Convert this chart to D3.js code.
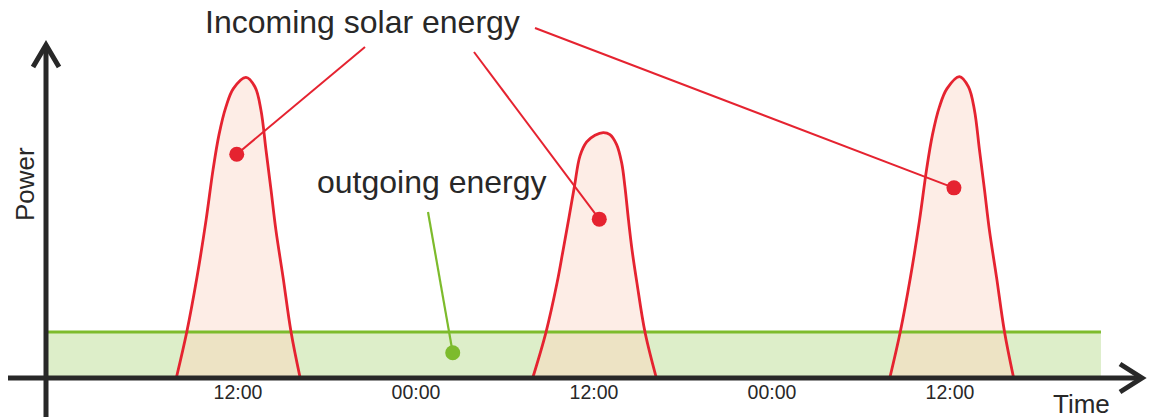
<!DOCTYPE html>
<html>
<head>
<meta charset="utf-8">
<script src="https://cdn.jsdelivr.net/npm/d3@7"></script>
<style>
  html, body { margin: 0; padding: 0; background: #ffffff; }
  svg { display: block; }
  text { font-family: "Liberation Sans", Arial, Helvetica, sans-serif; fill: #282828; }
</style>
</head>
<body>
<svg id="chart" width="1149" height="418"></svg>
<script>
// ---- data (hours on the time axis, power in arbitrary units) ----
const tickHours  = [12, 24, 36, 48, 60];
const tickLabels = ["12:00", "00:00", "12:00", "00:00", "12:00"];

const peak1Hours = [7.89, 8.58, 9.27, 9.88, 10.35, 10.75, 11.22, 11.72, 12.57, 13.18, 13.58, 13.92, 14.26, 14.59, 15.07, 15.61, 16.21];
const peak1Power = [0, 1.35, 3.00, 4.71, 6.22, 7.27, 8.11, 8.66, 9.00, 8.71, 8.02, 6.82, 5.62, 4.41, 3.00, 1.35, 0];

const peak2Hours = [31.92, 32.80, 33.54, 33.95, 34.35, 34.71, 35.09, 35.54, 36.10, 36.66, 37.11, 37.56, 37.90, 38.12, 38.36, 38.60, 38.93, 39.47, 40.22];
const peak2Power = [0, 1.35, 2.82, 3.81, 4.80, 5.71, 6.64, 7.06, 7.26, 7.34, 7.28, 6.98, 6.43, 5.71, 4.71, 3.81, 2.82, 1.35, 0];

const peak3Hours = [55.99, 56.68, 57.37, 57.98, 58.45, 58.85, 59.32, 59.83, 60.67, 61.28, 61.68, 62.02, 62.36, 62.69, 63.17, 63.71, 64.31];
const peak3Power = [0, 1.35, 3.00, 4.71, 6.22, 7.27, 8.11, 8.66, 9.02, 8.71, 8.02, 6.82, 5.62, 4.41, 3.00, 1.35, 0];

const outgoingHours = [-0.78, 70.21];
const outgoingPower = [1.35, 1.35];

// annotation dots [hour, power]
const solarDotHours = [11.95, 36.39, 60.30];
const solarDotPower = [6.69, 4.74, 5.68];
const outDotHour = 26.51;
const outDotPower = 0.73;

const labelIncoming = "Incoming solar energy";
const labelOutgoing = "outgoing energy";
const labelX = "Time";
const labelY = "Power";

// ---- layout ----
const svg = d3.select("#chart");
const x = d3.scaleLinear().domain([12, 60]).range([237.5, 949.5]);
const y = d3.scaleLinear().domain([0, 10]).range([377, 44]);

const RED = "#e52330", RED_FILL = "#fdede6", GREEN = "#7dbb2c", GREEN_FILL = "#ddeec9", TAN = "#ede3c4", AXIS = "#282828";

const peaks = [
  peak1Hours.map((h, i) => [h, peak1Power[i]]),
  peak2Hours.map((h, i) => [h, peak2Power[i]]),
  peak3Hours.map((h, i) => [h, peak3Power[i]])
];
const outgoing = outgoingHours.map((h, i) => [h, outgoingPower[i]]);

const curve = d3.curveCatmullRom.alpha(0.5);
const area = d3.area().x(d => x(d[0])).y0(y(0)).y1(d => y(d[1])).curve(curve);
const line = d3.line().x(d => x(d[0])).y(d => y(d[1])).curve(curve);

// outgoing band
svg.append("path").datum(outgoing).attr("d", d3.area().x(d => x(d[0])).y0(y(0)).y1(d => y(d[1])))
  .attr("fill", GREEN_FILL);

// peak fills
svg.selectAll("path.pf").data(peaks).join("path").attr("class", "pf")
  .attr("d", area).attr("fill", RED_FILL);

// overlap (peak area below outgoing level)
svg.append("clipPath").attr("id", "band")
  .append("rect").attr("x", 0).attr("width", 1149)
  .attr("y", y(outgoingPower[0])).attr("height", y(0) - y(outgoingPower[0]));
svg.append("g").attr("clip-path", "url(#band)")
  .selectAll("path").data(peaks).join("path").attr("d", area).attr("fill", TAN);

// outgoing line
svg.append("path").datum(outgoing).attr("d", d3.line().x(d => x(d[0])).y(d => y(d[1])))
  .attr("fill", "none").attr("stroke", GREEN).attr("stroke-width", 3);

// peak lines
svg.selectAll("path.pl").data(peaks).join("path").attr("class", "pl")
  .attr("d", line).attr("fill", "none").attr("stroke", RED).attr("stroke-width", 2.8);

// axes (arrows)
const axX0 = 8, axXTip = 1142, axY = 378;
const ayX = 46, ayBottom = 417, ayTip = 45;
svg.append("line").attr("x1", axX0).attr("x2", axXTip - 2).attr("y1", axY).attr("y2", axY)
  .attr("stroke", AXIS).attr("stroke-width", 5);
svg.append("path").attr("d", `M${axXTip - 22},${axY - 14} L${axXTip},${axY} L${axXTip - 22},${axY + 14}`)
  .attr("fill", "none").attr("stroke", AXIS).attr("stroke-width", 5).attr("stroke-linejoin", "miter");
svg.append("line").attr("x1", ayX).attr("x2", ayX).attr("y1", ayBottom).attr("y2", ayTip + 2)
  .attr("stroke", AXIS).attr("stroke-width", 5);
svg.append("path").attr("d", `M${ayX - 13},${ayTip + 22} L${ayX},${ayTip} L${ayX + 13},${ayTip + 22}`)
  .attr("fill", "none").attr("stroke", AXIS).attr("stroke-width", 5).attr("stroke-linejoin", "miter");

// tick labels
const xAxis = d3.axisBottom(x).tickValues(tickHours).tickFormat((d, i) => tickLabels[i]).tickSize(0).tickPadding(0);
const gx = svg.append("g").attr("transform", `translate(0,${axY + 7})`).call(xAxis);
gx.select(".domain").remove();
gx.selectAll("text").attr("font-size", 19.5).attr("dy", "0.71em")
  .style("font-family", '"Liberation Sans", Arial, sans-serif').attr("fill", "#282828");

// axis titles
svg.append("text").attr("x", 1053).attr("y", 412.5).attr("font-size", 26).text(labelX);
svg.append("text").attr("transform", "translate(34,221) rotate(-90)").attr("font-size", 26).text(labelY);

// annotations
svg.append("text").attr("x", 205).attr("y", 33).attr("font-size", 32).text(labelIncoming);
svg.append("text").attr("x", 317).attr("y", 193).attr("font-size", 32).text(labelOutgoing);

const leaderStarts = [[365, 47], [474, 52], [535, 28]];
solarDotHours.forEach((h, i) => {
  svg.append("line").attr("x1", leaderStarts[i][0]).attr("y1", leaderStarts[i][1])
    .attr("x2", x(h)).attr("y2", y(solarDotPower[i])).attr("stroke", RED).attr("stroke-width", 2);
  svg.append("circle").attr("cx", x(h)).attr("cy", y(solarDotPower[i])).attr("r", 7.5).attr("fill", RED);
});
svg.append("line").attr("x1", 428).attr("y1", 212).attr("x2", x(outDotHour)).attr("y2", y(outDotPower))
  .attr("stroke", GREEN).attr("stroke-width", 2.2);
svg.append("circle").attr("cx", x(outDotHour)).attr("cy", y(outDotPower)).attr("r", 7.5).attr("fill", GREEN);
</script>
</body>
</html>
